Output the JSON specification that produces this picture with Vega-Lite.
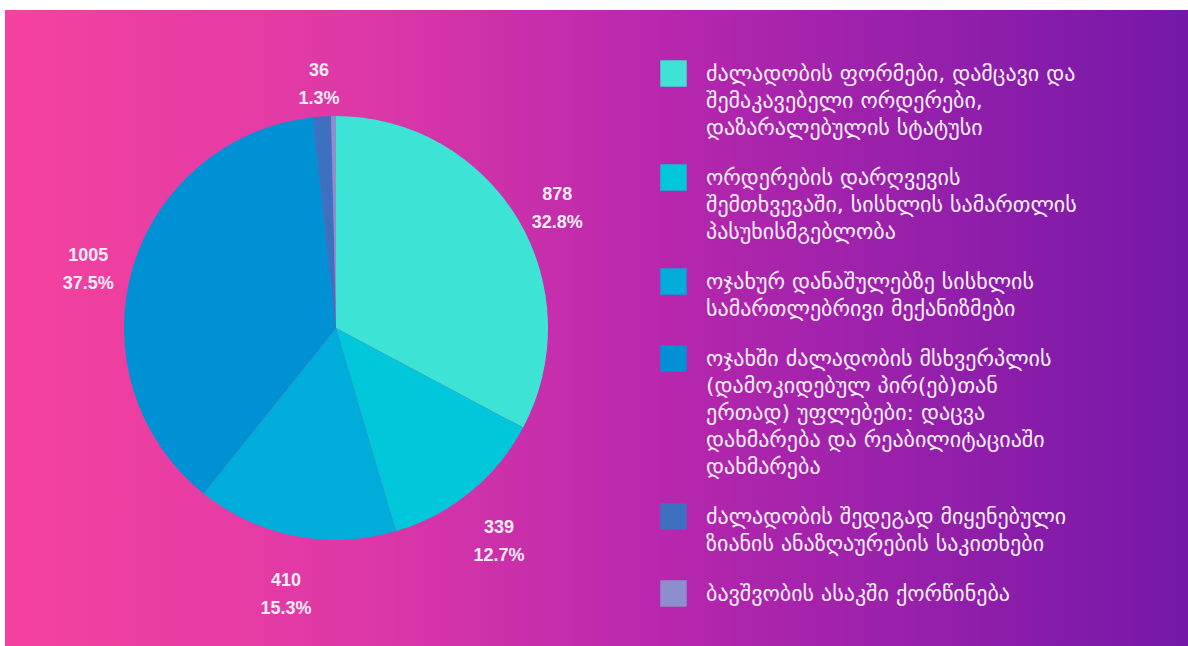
{
  "$schema": "https://vega.github.io/schema/vega-lite/v6.json",
  "padding": {"left": 5, "top": 10, "right": 0, "bottom": 0},
  "background": "white",
  "spacing": 0,
  "config": {"view": {"stroke": null}, "concat": {"spacing": 0}},
  "datasets": {
    "slices": [
      {"i": 1, "category": "ძალადობის ფორმები, დამცავი და|შემაკავებელი ორდერები,|დაზარალებულის სტატუსი", "value": 878},
      {"i": 2, "category": "ორდერების დარღვევის|შემთხვევაში, სისხლის სამართლის|პასუხისმგებლობა", "value": 339},
      {"i": 3, "category": "ოჯახურ დანაშულებზე სისხლის|სამართლებრივი მექანიზმები", "value": 410},
      {"i": 4, "category": "ოჯახში ძალადობის მსხვერპლის|(დამოკიდებულ პირ(ებ)თან|ერთად) უფლებები: დაცვა|დახმარება და რეაბილიტაციაში|დახმარება", "value": 1005},
      {"i": 5, "category": "ძალადობის შედეგად მიყენებული|ზიანის ანაზღაურების საკითხები", "value": 36},
      {"i": 6, "category": "ბავშვობის ასაკში ქორწინება", "value": 10}
    ],
    "bg": [{"k": 1}]
  },
  "hconcat": [
    {
      "width": 662,
      "height": 636,
      "layer": [
        {
          "data": {"name": "bg"},
          "mark": {"type": "rect", "color": {"gradient": "linear", "x1": 0, "x2": 1, "y1": 0, "y2": 0,
            "stops": [{"offset": 0, "color": "#f5429e"}, {"offset": 0.54, "color": "#dd38a7"}, {"offset": 1, "color": "#b727ad"}]}},
          "encoding": {}
        },
        {
          "data": {"name": "slices"},
          "mark": {"type": "arc", "outerRadius": 212},
          "encoding": {
            "theta": {"field": "value", "type": "quantitative", "stack": true},
            "order": {"field": "i", "type": "quantitative"},
            "color": {
              "field": "category", "type": "nominal", "sort": null,
              "scale": {
                "domain": [
                  "ძალადობის ფორმები, დამცავი და|შემაკავებელი ორდერები,|დაზარალებულის სტატუსი",
                  "ორდერების დარღვევის|შემთხვევაში, სისხლის სამართლის|პასუხისმგებლობა",
                  "ოჯახურ დანაშულებზე სისხლის|სამართლებრივი მექანიზმები",
                  "ოჯახში ძალადობის მსხვერპლის|(დამოკიდებულ პირ(ებ)თან|ერთად) უფლებები: დაცვა|დახმარება და რეაბილიტაციაში|დახმარება",
                  "ძალადობის შედეგად მიყენებული|ზიანის ანაზღაურების საკითხები",
                  "ბავშვობის ასაკში ქორწინება"
                ],
                "range": ["#3de3d4", "#00c8da", "#00acd9", "#0090d4", "#3d70c0", "#8e8ecf"]
              },
              "legend": {
                "orient": "none", "legendX": 655, "legendY": 50, "title": null,
                "symbolType": "square", "symbolSize": 700, "symbolStrokeWidth": 0, "symbolOpacity": 1,
                "labelColor": "#fbeefa", "labelFont": "DejaVu Sans", "labelFontSize": 22,
                "labelLimit": 700, "labelOffset": 19, "rowPadding": 25, "labelBaseline": "middle",
                "labelExpr": "split(datum.label, '|')",
                "encode": {"labels": {"update": {"lineHeight": {"value": 27}}}}
              }
            }
          }
        },
        {
          "data": {"name": "slices"},
          "transform": [
            {"joinaggregate": [{"op": "sum", "field": "value", "as": "total"}]},
            {"filter": "datum.value >= 20"},
            {"calculate": "datum.value + '\\n' + format(datum.value / datum.total, '.1%')", "as": "lbl"}
          ],
          "mark": {"type": "text", "radius": 258, "lineBreak": "\n", "lineHeight": 28, "font": "Liberation Sans", "fontWeight": "bold", "fontSize": 18, "color": "#f8ecf5", "baseline": "middle"},
          "encoding": {
            "theta": {"field": "value", "type": "quantitative", "stack": true},
            "order": {"field": "i", "type": "quantitative"},
            "text": {"field": "lbl", "type": "nominal"}
          }
        }
      ]
    },
    {
      "width": 521,
      "height": 636,
      "data": {"name": "bg"},
      "mark": {"type": "rect", "color": {"gradient": "linear", "x1": 0, "x2": 1, "y1": 0, "y2": 0,
        "stops": [{"offset": 0, "color": "#b727ad"}, {"offset": 1, "color": "#7418a8"}]}},
      "encoding": {}
    }
  ]
}
